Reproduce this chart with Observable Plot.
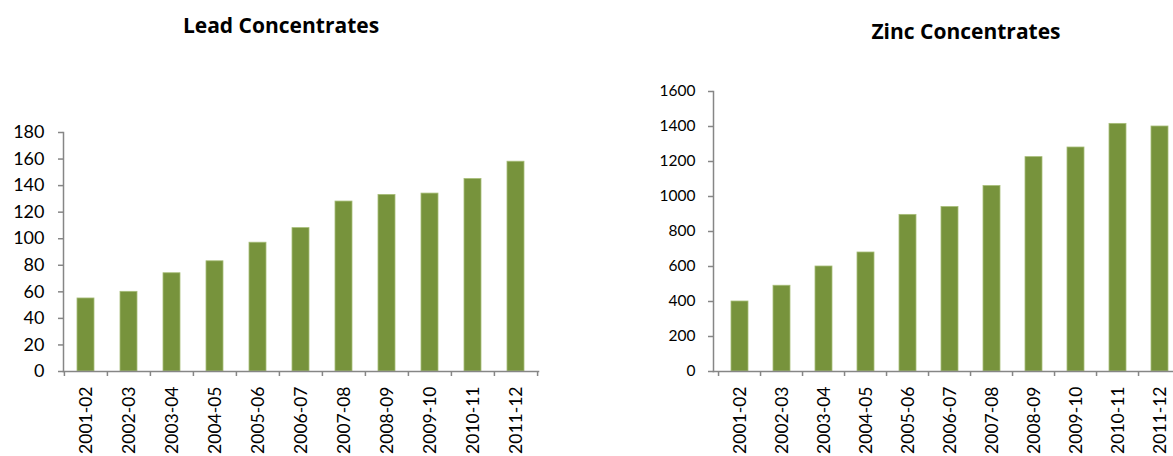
<!DOCTYPE html>
<html>
<head>
<meta charset="utf-8">
<script src="https://cdn.jsdelivr.net/npm/d3@7"></script>
<script src="https://cdn.jsdelivr.net/npm/@observablehq/plot@0.6"></script>
<style>
  html, body { margin: 0; padding: 0; background: #fff; overflow: hidden; }
  #wrap { position: relative; width: 1173px; height: 456px; overflow: hidden; font-family: Lato, "Liberation Sans", sans-serif; }
  .title { position: absolute; font-family: "Open Sans", Lato, sans-serif; font-weight: bold; font-size: 21px; line-height: 21px; color: #000; white-space: nowrap; transform: translateX(-50%); }
  .chart { position: absolute; top: 0; }
  .chart svg { max-width: none !important; }
</style>
</head>
<body>
<div id="wrap">
  <div class="title" style="left:281px; top:15px;">Lead Concentrates</div>
  <div class="title" style="left:966px; top:21px;">Zinc Concentrates</div>
  <div class="chart" id="lead" style="left:0px; width:560px;"></div>
  <div class="chart" id="zinc" style="left:600px; width:605px;"></div>
</div>
<script>
const years = ["2001-02","2002-03","2003-04","2004-05","2005-06","2006-07","2007-08","2008-09","2009-10","2010-11","2011-12"];
const leadValues = [55, 60, 74, 83, 97, 108, 128, 133, 134, 145, 158];
const zincValues = [400, 490, 600, 680, 895, 940, 1060, 1225, 1280, 1415, 1400];
const leadTicks = [0, 20, 40, 60, 80, 100, 120, 140, 160, 180];
const zincTicks = [0, 200, 400, 600, 800, 1000, 1200, 1400, 1600];

const barColor = "#77933C";
const axisColor = "#868686";

function makeChart({values, ticks, yMax, width, marginLeft, marginRight, marginTop, marginBottom, yFont, xFont, yPad}) {
  const data = years.map((y, i) => ({year: y, value: values[i]}));
  const step = (width - marginLeft - marginRight) / years.length;
  return Plot.plot({
    width, height: 456,
    marginLeft, marginRight, marginTop, marginBottom,
    style: {fontFamily: "Lato, 'Liberation Sans', sans-serif", background: "transparent", overflow: "visible", maxWidth: "none"},
    x: {domain: years, paddingInner: 0.6, paddingOuter: 0.3},
    y: {domain: [0, yMax]},
    marks: [
      Plot.barY(data, {x: "year", y: "value", fill: barColor, stroke: "#a7bd78", strokeWidth: 0.8}),
      Plot.frame({anchor: "left", stroke: axisColor, strokeWidth: 1.5}),
      Plot.frame({anchor: "bottom", stroke: axisColor, strokeWidth: 1.5}),
      Plot.axisY({ticks, tickSize: 5, tickPadding: yPad, stroke: axisColor, strokeWidth: 1.5, fill: "#000", fontSize: yFont, label: null, tickFormat: d => String(d)}),
      Plot.axisX({tickSize: 5, text: null, stroke: axisColor, strokeWidth: 1.5, dx: -step / 2, label: null}),
      Plot.axisX({ticks: [years[years.length - 1]], tickSize: 5, text: null, stroke: axisColor, strokeWidth: 1.5, dx: step / 2, label: null}),
      Plot.axisX({tickSize: 0, tickPadding: 15, tickRotate: -90, fill: "#000", fontSize: xFont, label: null})
    ]
  });
}

document.getElementById("lead").appendChild(makeChart({
  values: leadValues, ticks: leadTicks, yMax: 180,
  width: 560, marginLeft: 63, marginRight: 22, marginTop: 132, marginBottom: 85,
  yFont: 18, xFont: 17.5, yPad: 14
}));
document.getElementById("zinc").appendChild(makeChart({
  values: zincValues, ticks: zincTicks, yMax: 1600,
  width: 605, marginLeft: 113, marginRight: 20, marginTop: 91, marginBottom: 85,
  yFont: 15.5, xFont: 17.5, yPad: 13
}));
</script>
</body>
</html>
